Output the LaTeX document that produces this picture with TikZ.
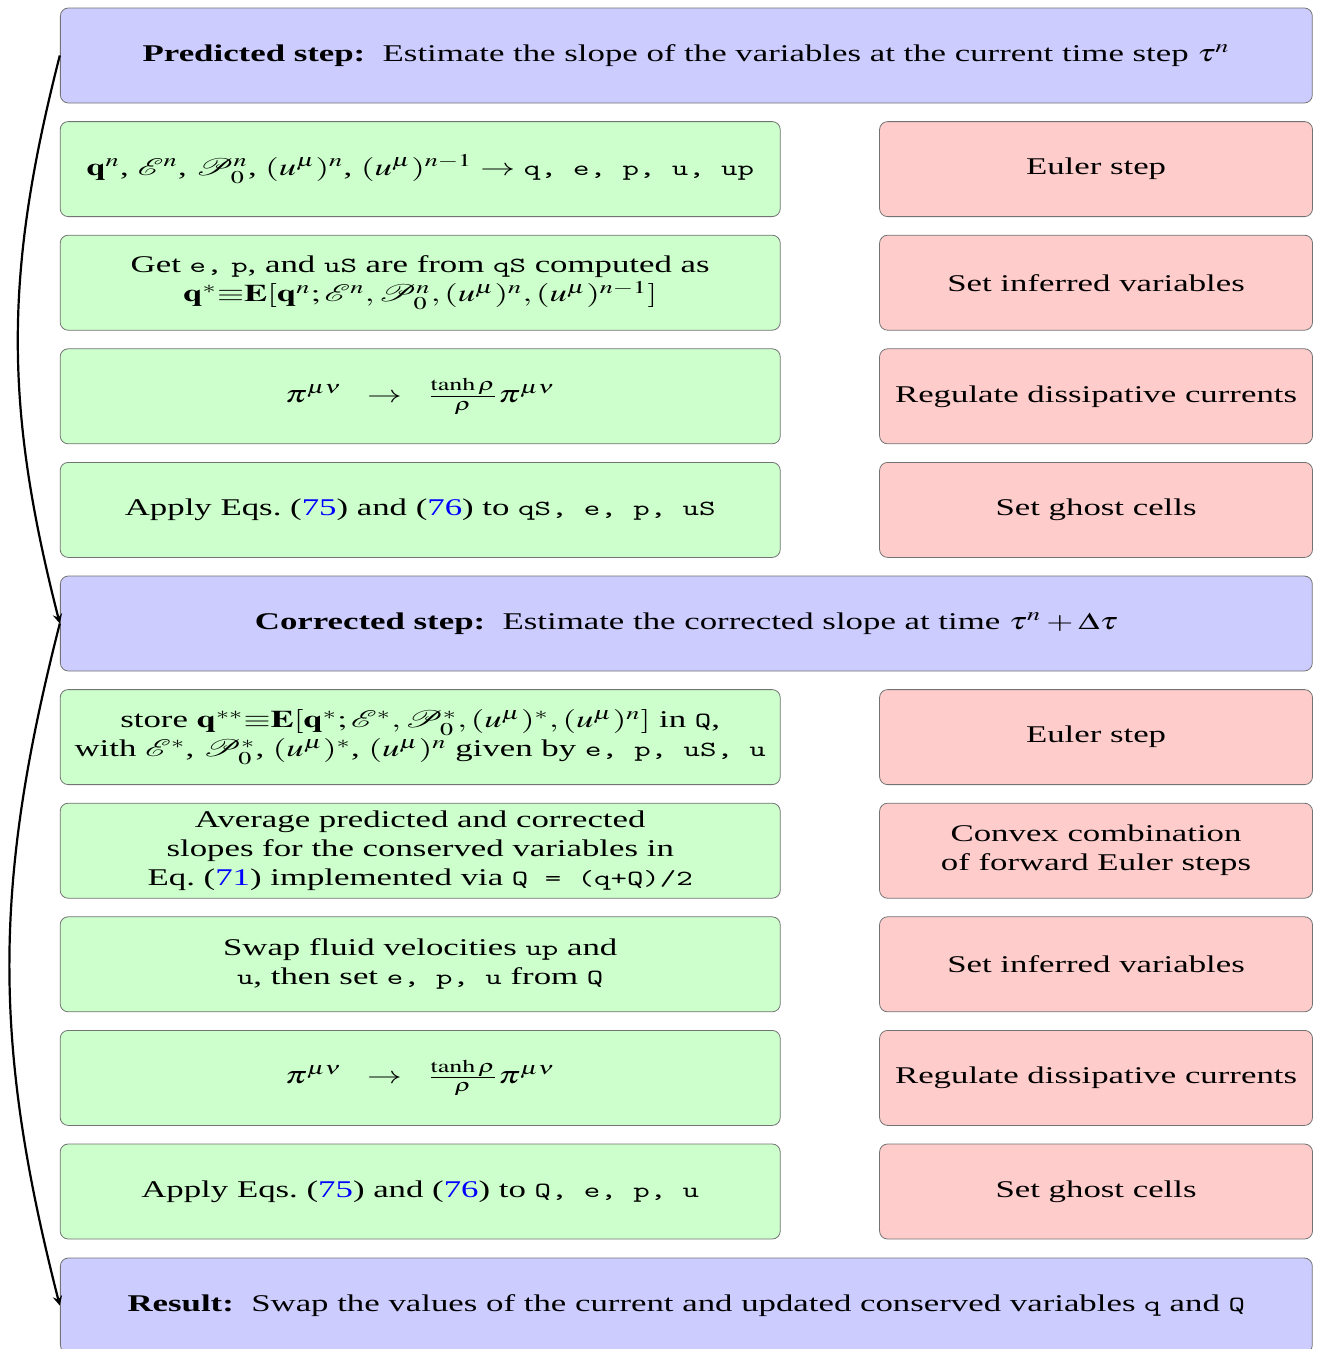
\documentclass[tikz,border=0pt]{standalone}
\usepackage{mathptmx}
\usepackage{mathrsfs}
\usepackage{fontspec}
\setmainfont{Liberation Serif}
\setmonofont[Scale=0.9]{Latin Modern Mono}

\tikzset{
  box/.style={draw=black!55, rounded corners=4pt, minimum height=47.5pt,
    align=center, font=\fontsize{12}{14.5}\selectfont},
  stepbox/.style={box, fill=blue!20, minimum width=431.7pt},
  calcbox/.style={box, fill=green!20, minimum width=248.3pt},
  taskbox/.style={box, fill=red!20, minimum width=149.3pt},
  loopback/.style={line width=1.1pt, ->, >=stealth},
}

\newcommand{\eqref}[1]{(\textcolor{blue}{#1})}
\newcommand{\regul}{$\pi^{\mu\nu}\ \ \rightarrow\ \ \frac{\tanh\rho}{\rho}\pi^{\mu\nu}$}

\begin{document}
\begin{tikzpicture}[x=0.345pt, y=-0.5pt, xscale=1.45, transform shape]
\useasboundingbox (0,0) rectangle (1339,1349);

\node[stepbox] (pred) at (686,55.5)
  {\textbf{Predicted step:}\enspace Estimate the slope of the variables at the current time step $\tau^n$};

\foreach \txt [count = \n, evaluate = \n as \ypos using {55.5+113.6*\n}] in {
    {$\mathbf{q}^n$, $\mathscr{E}^n$, $\mathscr{P}_0^n$, $(u^\mu)^n$, $(u^\mu)^{n-1}\rightarrow$ \texttt{q, e, p, u, up}},
    {Get \texttt{e,} \texttt{p}, and \texttt{uS} are from \texttt{qS} computed as\\
     $\mathbf{q}^*{\equiv}\mathbf{E}[\mathbf{q}^n;\mathscr{E}^n,\mathscr{P}_0^n,(u^\mu)^n,(u^\mu)^{n-1}]$},
    {\regul},
    {Apply Eqs.~\eqref{75} and \eqref{76} to \texttt{qS, e, p, uS}}}{
  \node[calcbox] (pcalc\n) at (420,\ypos) {\txt};
}

\foreach \txt [count = \n, evaluate = \n as \ypos using {55.5+113.6*\n}] in {
    {Euler step}, {Set inferred variables}, {Regulate dissipative currents}, {Set ghost cells}}{
  \node[taskbox] (ptask\n) at (1095.5,\ypos) {\txt};
}

\node[stepbox] (corr) at (686,623.5)
  {\textbf{Corrected step:}\enspace Estimate the corrected slope at time $\tau^n+\Delta\tau$};

\foreach \txt [count = \n, evaluate = \n as \ypos using {623.5+113.6*\n}] in {
    {store $\mathbf{q}^{**}{\equiv}\mathbf{E}[\mathbf{q}^*;\mathscr{E}^*,\mathscr{P}_0^*,(u^\mu)^*,(u^\mu)^n]$ in \texttt{Q},\\
     with $\mathscr{E}^*$, $\mathscr{P}_0^*$, $(u^\mu)^*$, $(u^\mu)^n$ given by \texttt{e, p, uS, u}},
    {Average predicted and corrected\\ slopes for the conserved variables in\\
     Eq.~\eqref{71} implemented via \texttt{Q = (q+Q)/2}},
    {Swap fluid velocities \texttt{up} and\\ \texttt{u}, then set \texttt{e, p, u} from \texttt{Q}},
    {\regul},
    {Apply Eqs.~\eqref{75} and \eqref{76} to \texttt{Q, e, p, u}}}{
  \node[calcbox] (ccalc\n) at (420,\ypos) {\txt};
}

\foreach \txt [count = \n, evaluate = \n as \ypos using {623.5+113.6*\n}] in {
    {Euler step}, {Convex combination\\ of forward Euler steps}, {Set inferred variables},
    {Regulate dissipative currents}, {Set ghost cells}}{
  \node[taskbox] (ctask\n) at (1095.5,\ypos) {\txt};
}

\node[stepbox] (res) at (686,1305.5)
  {\textbf{Result:}\enspace Swap the values of the current and updated conserved variables \texttt{q} and \texttt{Q}};

% loop back to the next stage
\draw[loopback] (pred.west) to[bend right=10] (corr.west);
\draw[loopback] (corr.west) to[bend right=10] (res.west);
\end{tikzpicture}
\end{document}
